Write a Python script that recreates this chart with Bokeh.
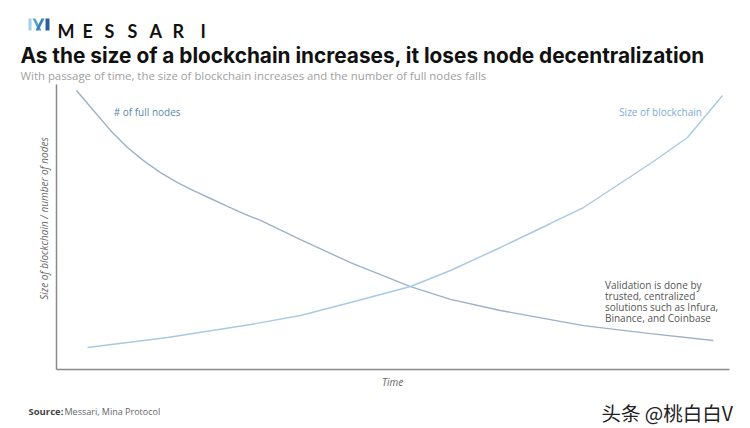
import math
from bokeh.plotting import figure
from bokeh.models import Label, Range1d
from bokeh.embed import file_html
from bokeh.resources import INLINE

# ---- data (time on x, 0-100 relative scale on y) ----
nodes_t = [2.97, 5.50, 8.02, 10.55, 12.93, 15.45, 17.98, 20.36, 22.88, 25.41, 27.79, 30.31,
           36.26, 43.68, 52.6, 58.54, 65.97, 73.4, 78.3, 88.26, 97.6]
nodes_v = [97.9, 90.9, 83.9, 77.9, 73.3, 69.1, 65.6, 62.8, 60.0, 57.2, 54.7, 52.3,
           45.6, 37.5, 29.1, 24.6, 20.7, 17.5, 15.4, 12.6, 10.2]

chain_t = [4.61, 16.49, 28.83, 36.26, 43.68, 52.6, 58.54, 65.97, 73.4, 78.31, 88.26, 93.76, 98.96]
chain_v = [7.72, 11.23, 15.79, 18.95, 23.51, 29.12, 34.74, 42.81, 51.23, 56.84, 72.28, 81.40, 96.14]

axis_min, axis_max = 0, 100

series_labels = ["# of full nodes", "Size of blockchain"]
note_lines = ["Validation is done by", "trusted, centralized",
              "solutions such as Infura,", "Binance, and Coinbase"]

title_text = "As the size of a blockchain increases, it loses node decentralization"
subtitle_text = "With passage of time, the size of blockchain increases and the number of full nodes falls"
brand = "MESSARI"
x_label = "Time"
y_label = "Size of blockchain / number of nodes"
source_bold = "Source:"
source_rest = "Messari, Mina Protocol"
watermark = "头条 @桃白白V"

# ---- layout: the plot area on the page, in pixels ----
W, H = 750, 428
FL, FR, FT, FB = 56, 729, 84, 369
kx = (FR - FL) / (axis_max - axis_min)
ky = (FB - FT) / (axis_max - axis_min)


def dx(px):
    return axis_min + (px - FL) / kx


def dy(py):
    return axis_min + (FB - py) / ky


p = figure(width=W, height=H, output_backend="svg", toolbar_location=None,
           x_range=Range1d(dx(0), dx(W)), y_range=Range1d(dy(H), dy(0)),
           min_border=0, x_axis_type=None, y_axis_type=None)
p.outline_line_color = None
p.grid.visible = False

# axis lines
p.segment(x0=[axis_min, axis_min], y0=[axis_min, axis_min],
          x1=[axis_max, axis_min], y1=[axis_min, axis_max],
          line_color="#8a8a8a", line_width=1.5)

p.line(nodes_t, nodes_v, line_color="#9db2c6", line_width=1.4)
p.line(chain_t, chain_v, line_color="#a8c9e4", line_width=1.4)


def lab(x, y, text, size, color="#111111", font="Open Sans", style="normal",
        align="left", baseline="alphabetic", angle=0.0):
    p.add_layout(Label(x=x, y=y, text=text, text_font=font, text_font_style=style,
                       text_font_size=size, text_color=color, text_align=align,
                       text_baseline=baseline, angle=angle))


# axis titles
lab(dx(392), dy(381), x_label, "10px", "#666666", style="italic", align="center", baseline="middle")
lab(dx(43), dy(218), y_label, "10px", "#666666", style="italic", align="center",
    baseline="middle", angle=math.pi / 2)

# series labels and note
lab(8.5, 90.5, series_labels[0], "10px", "#5b88a8", baseline="middle")
lab(83.6, 90.5, series_labels[1], "10px", "#7eaad6", baseline="middle")
for i, ln in enumerate(note_lines):
    lab(81.5, 29.8 - i * 3.9, ln, "10px", "#555555", baseline="middle")

# logo
icon_xs = [[28, 31, 31, 28], [32, 35, 41, 38], [41, 44, 38, 35], [45, 49, 49, 45]]
icon_ys = [[18, 18, 30, 30], [18, 18, 30, 30], [18, 18, 30, 30], [18, 18, 30, 30]]
icon_c = ["#9fd0ee", "#5aa2d6", "#3b7fc0", "#2a5f9e"]
p.patches([[dx(v) for v in xs] for xs in icon_xs], [[dy(v) for v in ys] for ys in icon_ys],
          fill_color=icon_c, line_color=None)
for ch, px in zip(brand, [57, 82, 104, 127, 149, 172, 200]):
    lab(dx(px), dy(30), ch, "18px", "#111111", font="Lato", style="bold")

# titles
lab(dx(20), dy(55), title_text, "20.8px", "#111111", font="Inter", style="bold")
lab(dx(20), dy(75), subtitle_text, "11.4px", "#a0a0a0")

# footer
lab(dx(28), dy(411), source_bold, "9.5px", "#444444", style="bold")
lab(dx(64), dy(411), source_rest, "9px", "#666666")
lab(dx(601), dy(412), watermark, "19.5px", "#222222", font="Noto Sans CJK SC")

open("out.html", "w").write(file_html(p, INLINE))
